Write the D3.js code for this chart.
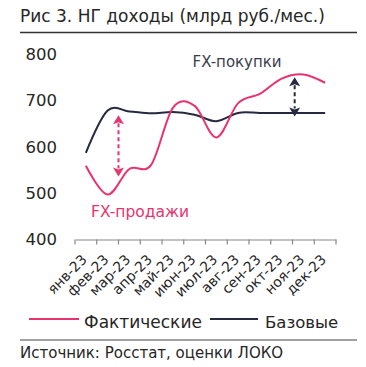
<!DOCTYPE html>
<html><head><meta charset="utf-8">
<script src="https://cdn.jsdelivr.net/npm/d3@7"></script>
<style>
html,body{margin:0;padding:0;background:#fff;}
text{font-family:"DejaVu Sans",sans-serif;}
</style></head>
<body><svg id="c" width="366" height="367"></svg>
<script>
const months = ["янв-23","фев-23","мар-23","апр-23","май-23","июн-23","июл-23","авг-23","сен-23","окт-23","ноя-23","дек-23"];
const actual = [559, 497, 552, 561, 684, 688, 620, 694, 714, 747, 756, 738];
const base   = [587, 678, 676, 672, 675, 669, 655, 673, 673, 673, 673, 673];
const yTicks = [400, 500, 600, 700, 800];
const arrowPos = [1.5, 9.6];          // fractional month index
const arrowSell = [668, 536];         // FX-продажи arrow ends
const arrowBuy  = [750, 665];         // FX-покупки arrow ends

const PINK = "#e8336f", NAVY = "#262940", TXT = "#262626";
const svg = d3.select("#c");

const x = d3.scaleBand().domain(months).range([75, 336]).paddingInner(0).paddingOuter(0);
const xc = d => x(d) + x.bandwidth()/2;
const xi = i => x(months[0]) + x.bandwidth()*(i+0.5);
const y = d3.scaleLinear().domain([400, 800]).range([239.5, 54]);

// title
svg.append("text").attr("x", 20).attr("y", 22).attr("font-size", 17).attr("font-weight", 500)
  .attr("fill", TXT).text("Рис 3. НГ доходы (млрд руб./мес.)");
svg.append("line").attr("x1", 20).attr("x2", 357).attr("y1", 32.5).attr("y2", 32.5)
  .attr("stroke", "#333").attr("stroke-width", 1.3);

// y axis labels
svg.append("g").selectAll("text").data(yTicks).join("text")
  .attr("x", 57).attr("y", d => y(d)).attr("dy", "0.36em").attr("text-anchor", "end")
  .attr("font-size", 16.5).attr("fill", TXT).text(d => d);

// x axis
const xAxis = d3.axisBottom(x).tickSize(0).tickFormat("");
const gx = svg.append("g").attr("transform", `translate(0,${y(400)})`).call(xAxis);
gx.select(".domain").attr("stroke", "#888").attr("stroke-width", 1.2);
const bounds = months.map(m => x(m)).concat([x(months[11]) + x.bandwidth()]);
gx.selectAll("line.tk").data(bounds).join("line").attr("class","tk")
  .attr("x1", d => d).attr("x2", d => d).attr("y1", 0).attr("y2", 5)
  .attr("stroke", "#888").attr("stroke-width", 1.2);
svg.append("g").selectAll("text").data(months).join("text")
  .attr("transform", d => `translate(${xc(d) - 1.5},${257}) rotate(-45)`)
  .attr("text-anchor", "end").attr("dy", "0.35em").attr("font-size", 14).attr("fill", TXT)
  .text(d => d);

// lines
const line = d3.line().x((d,i) => xi(i)).y(d => y(d)).curve(d3.curveCatmullRom.alpha(0));
svg.append("path").datum(base).attr("d", line).attr("fill", "none").attr("stroke", NAVY).attr("stroke-width", 2);
svg.append("path").datum(actual).attr("d", line).attr("fill", "none").attr("stroke", PINK).attr("stroke-width", 2);

// arrows
function arrow(xPos, y1, y2, color) {
  const g = svg.append("g");
  const a = y(y1), b = y(y2);
  const h = 9, w = 5.5;
  g.append("line").attr("x1", xPos).attr("x2", xPos).attr("y1", a + h - 1).attr("y2", b - h + 1)
    .attr("stroke", color).attr("stroke-width", 2).attr("stroke-dasharray", "4,3");
  g.append("path").attr("d", `M${xPos},${a} L${xPos + w},${a + h} L${xPos},${a + h - 2} L${xPos - w},${a + h} Z`).attr("fill", color);
  g.append("path").attr("d", `M${xPos},${b} L${xPos + w},${b - h} L${xPos},${b - h + 2} L${xPos - w},${b - h} Z`).attr("fill", color);
}
arrow(xi(arrowPos[0]), arrowSell[0], arrowSell[1], PINK);
arrow(xi(arrowPos[1]), arrowBuy[0], arrowBuy[1], NAVY);

svg.append("text").attr("x", 91).attr("y", 216.5).attr("font-size", 15.5).attr("fill", PINK).text("FX-продажи");
svg.append("text").attr("x", 192.5).attr("y", 67).attr("font-size", 15).attr("fill", "#3a3d4d").text("FX-покупки");

// legend
svg.append("line").attr("x1", 29).attr("x2", 79).attr("y1", 319).attr("y2", 319).attr("stroke", PINK).attr("stroke-width", 2);
svg.append("text").attr("x", 84).attr("y", 327.5).attr("font-size", 17).attr("fill", TXT).text("Фактические");
svg.append("line").attr("x1", 210).attr("x2", 258).attr("y1", 319).attr("y2", 319).attr("stroke", NAVY).attr("stroke-width", 2);
svg.append("text").attr("x", 265).attr("y", 327.5).attr("font-size", 16.5).attr("fill", TXT).text("Базовые");

svg.append("line").attr("x1", 20).attr("x2", 357).attr("y1", 340).attr("y2", 340)
  .attr("stroke", "#444").attr("stroke-width", 1.2);
svg.append("text").attr("x", 20).attr("y", 357.5).attr("font-size", 15).attr("fill", TXT)
  .text("Источник: Росстат, оценки ЛОКО");
</script></body></html>
